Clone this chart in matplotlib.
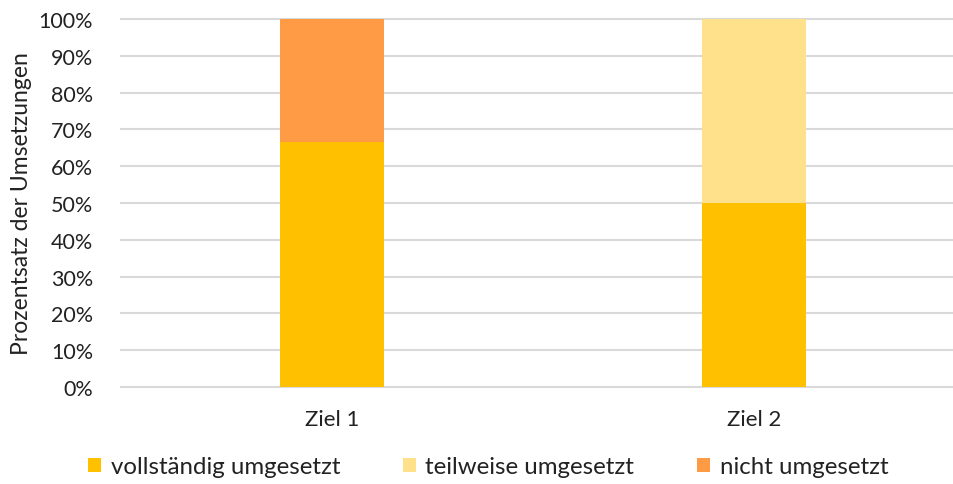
import matplotlib
matplotlib.use("Agg")
import matplotlib.pyplot as plt
from matplotlib.patches import Patch
import numpy as np

categories = ["Ziel 1", "Ziel 2"]
series_names = ["vollständig umgesetzt", "teilweise umgesetzt", "nicht umgesetzt"]
vollstaendig = [0.667, 0.50]
teilweise = [0.0, 0.50]
nicht = [0.333, 0.0]
colors = ["#FFC000", "#FFE08B", "#FF9A45"]
yticks = [0, 0.1, 0.2, 0.3, 0.4, 0.5, 0.6, 0.7, 0.8, 0.9, 1.0]

plt.rcParams["font.family"] = ["Lato", "DejaVu Sans"]

W, H = 954, 485
fig = plt.figure(figsize=(W / 100, H / 100), dpi=100)
ax = fig.add_axes([121 / W, 1 - 388 / H, 1 - 121 / W, 368 / H])

x = np.arange(len(categories))
bw = 0.247
bottom = np.zeros(len(categories))
for vals, c, name in zip([vollstaendig, teilweise, nicht], colors, series_names):
    ax.bar(x, vals, bw, bottom=bottom, color=c, label=name, zorder=3)
    bottom += np.array(vals)

ax.set_xlim(-0.5, 1.474)
ax.set_ylim(0, 1)
ax.set_yticks(yticks)
ax.set_yticklabels([f"{int(round(t*100))}%" for t in yticks])
ax.set_xticks(x)
ax.set_xticklabels(categories)
for t in yticks:
    ax.axhline(t, color="#D9D9D9", lw=1.5, zorder=1, clip_on=False)
for s in ax.spines.values():
    s.set_visible(False)
ax.tick_params(axis="y", length=0, labelsize=15.5, colors="#222222", pad=20)
ax.tick_params(axis="x", length=0, labelsize=16, colors="#222222", pad=16)
ax.set_ylabel("Prozentsatz der Umsetzungen", fontsize=16.5, color="#222222", labelpad=5)

handles = [Patch(facecolor=c, label=n) for c, n in zip(colors, series_names)]
fig.legend(handles=handles, loc="center", bbox_to_anchor=(488 / W, 1 - 468 / H), ncol=3,
           frameon=False, fontsize=17.3, handlelength=0.55, handleheight=0.55,
           handletextpad=0.4, columnspacing=2.6, labelcolor="#222222")

fig.savefig("out.png", dpi=100)
